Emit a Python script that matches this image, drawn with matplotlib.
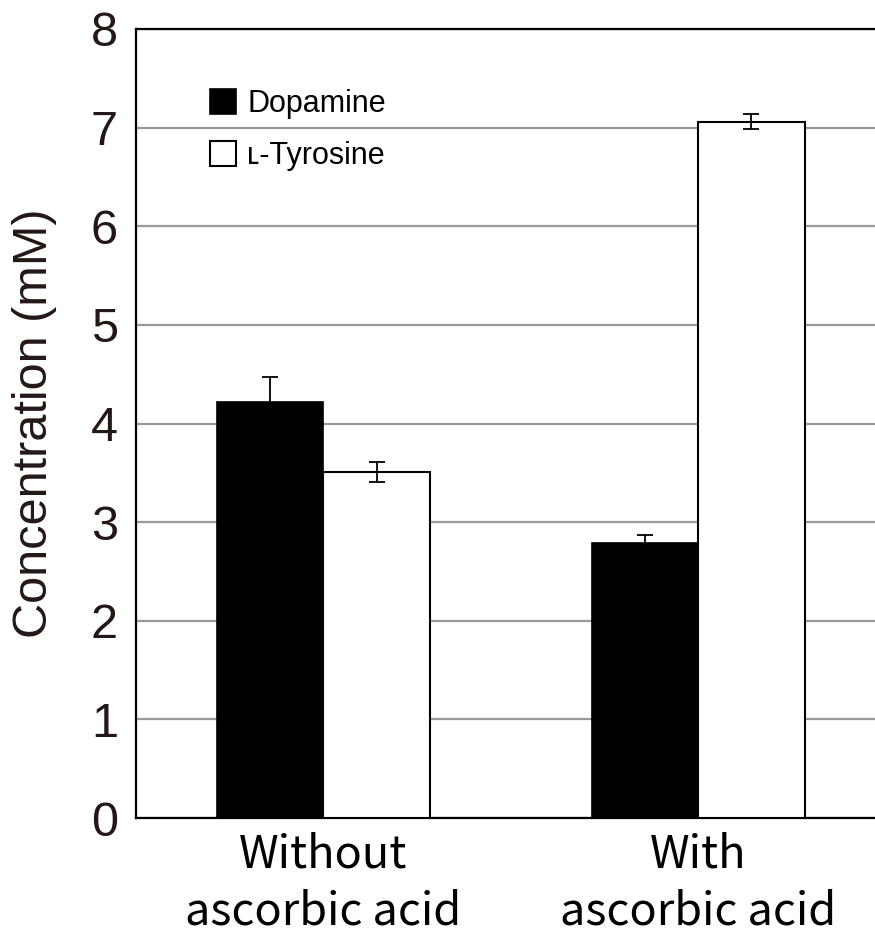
import matplotlib.pyplot as plt
import numpy as np
import matplotlib as mpl

mpl.rcParams["font.family"] = ["Liberation Sans", "DejaVu Sans"]

groups = ["Without\nascorbic acid", "With\nascorbic acid"]
dopamine = [4.22, 2.79]
dopamine_err = [0.25, 0.08]
tyrosine = [3.51, 7.06]
tyrosine_err = [0.10, 0.075]
yticks = [0, 1, 2, 3, 4, 5, 6, 7, 8]

txt = "#231815"
w = 0.284
x = np.arange(len(groups))

fig = plt.figure(figsize=(8.75, 9.35), dpi=100)
ax = fig.add_axes([0.1554, 0.1251, 0.8446, 0.8439])

ek = dict(ecolor="black", elinewidth=1.3, capthick=1.3)
ax.bar(x - w / 2, dopamine, w, yerr=dopamine_err, color="black",
       edgecolor="black", linewidth=1.2, capsize=6, error_kw=ek,
       label="Dopamine", zorder=3)
ax.bar(x + w / 2, tyrosine, w, yerr=tyrosine_err, color="white",
       edgecolor="black", linewidth=1.5, capsize=6, error_kw=ek,
       label="ʟ-Tyrosine", zorder=3)

ax.set_ylim(0, 8)
ax.set_xlim(-0.5, 1.472)
ax.set_yticks(yticks)
ax.set_yticklabels([str(t) for t in yticks], fontsize=35, color=txt)
ax.set_xticks(x)
ax.set_xticklabels(groups, fontsize=32.5, color="black",
                   family=["Noto Sans CJK JP", "DejaVu Sans"], linespacing=1.3)
ax.tick_params(axis="both", length=0)
ax.tick_params(axis="y", pad=13)
ax.tick_params(axis="x", pad=10)

ax.set_ylabel("Concentration (mM)", fontsize=35, color=txt, labelpad=24)

ax.yaxis.grid(True, color="#9a9a9a", linewidth=1.6, zorder=0)
ax.set_axisbelow(True)
ax.spines["right"].set_visible(False)
for s in ["left", "bottom", "top"]:
    ax.spines[s].set_linewidth(1.6)
    ax.spines[s].set_color("black")

ax.legend(loc="upper left", bbox_to_anchor=(0.083, 0.94), frameon=False,
          fontsize=22, handlelength=0.88, handleheight=0.88,
          handletextpad=0.35, labelspacing=0.72, borderaxespad=0)

plt.savefig("out.png", dpi=100)
